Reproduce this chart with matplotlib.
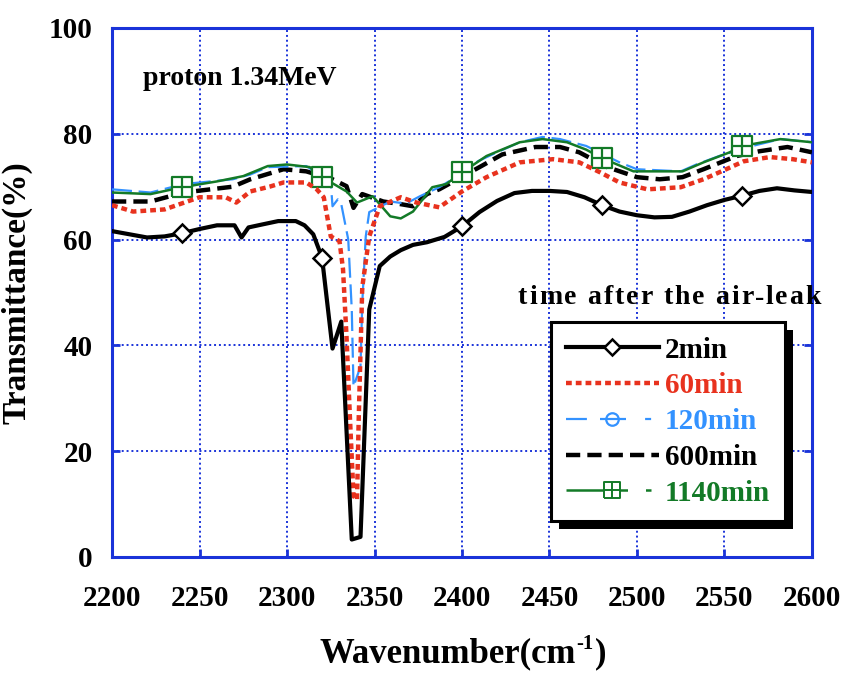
import matplotlib
matplotlib.use("Agg")
import matplotlib.pyplot as plt
from matplotlib.lines import Line2D
from matplotlib.patches import Rectangle
from matplotlib.path import Path

plt.rcParams["font.family"] = ["Liberation Serif", "DejaVu Serif"]
plt.rcParams["font.weight"] = "bold"

# Transmittance spectra
x_2 = [2200, 2210, 2220, 2230, 2240, 2250, 2260, 2270, 2274, 2278, 2285, 2295, 2305, 2310,
       2315, 2320, 2326, 2331, 2337, 2342, 2347, 2353, 2359, 2365, 2372, 2380, 2390, 2400,
       2410, 2420, 2430, 2440, 2450, 2460, 2470, 2480, 2490, 2500, 2510, 2520, 2530, 2540,
       2550, 2560, 2570, 2580, 2590, 2600]
y_2 = [61.6, 61.0, 60.4, 60.6, 61.2, 62.0, 62.7, 62.7, 60.4, 62.3, 62.8, 63.5, 63.5, 62.7,
       61.0, 56.6, 39.4, 44.5, 3.3, 3.8, 46.8, 55.0, 56.8, 58.0, 59.0, 59.5, 60.5, 62.5,
       65.2, 67.3, 68.8, 69.2, 69.2, 69.0, 68.0, 66.5, 65.3, 64.6, 64.2, 64.3, 65.3, 66.5,
       67.5, 68.3, 69.2, 69.7, 69.3, 69.0]

x_60 = [2200, 2212, 2230, 2250, 2265, 2271, 2279, 2290, 2298, 2311, 2317, 2321, 2325, 2330,
        2332, 2334, 2336, 2338, 2340, 2341, 2343, 2347, 2353, 2365, 2374, 2387, 2400, 2414,
        2433, 2452, 2467, 2479, 2490, 2506, 2525, 2538, 2551, 2561, 2576, 2589, 2600]
y_60 = [66.5, 65.3, 65.7, 68.0, 68.0, 67.0, 69.1, 70.0, 70.8, 70.8, 69.5, 68.0, 60.6, 59.7,
        54.4, 41.7, 26.0, 11.5, 10.8, 26.5, 51.0, 60.6, 66.3, 68.0, 67.0, 66.1, 69.1, 71.8,
        74.6, 75.2, 74.6, 72.7, 70.8, 69.5, 69.9, 71.4, 73.3, 74.8, 75.6, 75.2, 74.6]

x_120 = [2200, 2222, 2241, 2269, 2279, 2289, 2311, 2325, 2326, 2329, 2331, 2335, 2337, 2338,
         2342, 2343, 2345, 2347, 2359, 2368, 2376, 2387, 2400, 2409, 2420, 2433, 2446, 2456,
         2471, 2490, 2500, 2525, 2534, 2547, 2566, 2582, 2600]
y_120 = [69.5, 68.9, 70.5, 71.4, 72.3, 73.7, 73.9, 70.8, 66.3, 67.6, 66.7, 60.0, 46.8, 32.2,
         36.0, 48.0, 60.6, 65.2, 67.2, 66.8, 68.2, 69.9, 72.5, 74.8, 76.5, 78.4, 79.4, 79.0,
         77.7, 74.6, 73.3, 72.9, 74.2, 75.8, 77.7, 79.0, 78.4]

x_600 = [2200, 2222, 2241, 2269, 2279, 2298, 2311, 2326, 2334, 2338, 2343, 2355, 2365, 2372,
         2380, 2387, 2410, 2423, 2442, 2456, 2467, 2483, 2500, 2513, 2526, 2538, 2557, 2570,
         2586, 2600]
y_600 = [67.2, 67.2, 68.9, 70.0, 71.4, 73.3, 72.9, 71.4, 70.1, 66.0, 68.6, 67.2, 66.7, 66.3,
         68.6, 69.5, 73.7, 76.1, 77.5, 77.5, 76.5, 73.7, 71.8, 71.4, 71.8, 73.3, 75.8, 76.7,
         77.5, 76.5]

x_1140 = [2200, 2222, 2240, 2260, 2275, 2289, 2300, 2313, 2320, 2334, 2340, 2349, 2359, 2365,
          2372, 2383, 2391, 2400, 2414, 2433, 2446, 2460, 2471, 2480, 2498, 2526, 2538, 2553,
          2560, 2582, 2600]
y_1140 = [68.9, 68.6, 69.9, 71.0, 72.0, 73.9, 74.2, 73.7, 71.8, 69.1, 67.0, 68.2, 64.4, 64.0,
          65.3, 69.9, 70.5, 72.7, 75.8, 78.4, 79.0, 78.4, 77.0, 75.4, 72.9, 72.9, 74.6, 76.5,
          77.7, 79.0, 78.4]

labels = ["2min", "60min", "120min", "600min", "1140min"]

# marker positions (every 80 cm-1)
mark_x = [2240, 2320, 2400, 2480, 2560]

red = "#e8321e"
blue = "#3392ff"
green = "#137a27"
axblue = "#1a33d9"

# square with a cross inside
box_cross = Path([(-1, -1), (1, -1), (1, 1), (-1, 1), (-1, -1), (0, -1), (0, 1), (-1, 0), (1, 0)],
                 [Path.MOVETO, Path.LINETO, Path.LINETO, Path.LINETO, Path.LINETO,
                  Path.MOVETO, Path.LINETO, Path.MOVETO, Path.LINETO])

fig = plt.figure(figsize=(8.52, 6.73), dpi=100)
ax = fig.add_axes([0.1315, 0.1724, 0.8215, 0.786])

ax.plot(x_600, y_600, color="black", lw=3.2, dashes=(3.2, 1.6), zorder=3)
ax.plot(x_120, y_120, color=blue, lw=1.6, dashes=(9, 3), zorder=3)
ax.plot(x_1140, y_1140, color=green, lw=1.8, zorder=3,
        marker=box_cross, markersize=15, markerfacecolor="white", markeredgewidth=1.6,
        markevery=[x_1140.index(v) for v in mark_x])
ax.plot(x_60, y_60, color=red, lw=3.2, dashes=(1.3, 0.9), zorder=4)
ax.plot(x_2, y_2, color="black", lw=3.0, zorder=5,
        marker="D", markersize=9, markerfacecolor="white", markeredgewidth=1.8,
        markevery=[x_2.index(v) for v in mark_x])

ax.set_xlim(2200, 2600)
ax.set_ylim(0, 100)
ax.set_xticks(range(2200, 2601, 50))
ax.set_yticks(range(0, 101, 20))
ax.grid(True, color=axblue, linestyle=(0, (1, 1.5)), linewidth=1.4)
for s in ax.spines.values():
    s.set_color(axblue)
    s.set_linewidth(2.2)
ax.tick_params(axis="both", direction="in", length=6, width=2, color=axblue,
               labelsize=21, right=True, top=False)
ax.tick_params(axis="x", pad=20)
ax.tick_params(axis="y", pad=14)

ax.set_ylabel("Transmittance(%)", fontsize=24, fontweight="bold", labelpad=12)

ax.text(0.044, 0.905, "proton 1.34MeV", transform=ax.transAxes, fontsize=20,
        fontweight="bold", va="center", ha="left")

handles = [
    Line2D([], [], color="black", lw=3.0, marker="D", markersize=8,
           markerfacecolor="white", markeredgewidth=1.8),
    Line2D([], [], color=red, lw=3.2, dashes=(1.3, 0.9)),
    Line2D([], [], color=blue, lw=1.6, dashes=(9.4, 5.9, 11.7, 8.6, 2.7, 5), marker="o",
           markersize=9, markerfacecolor="none", markeredgewidth=1.6),
    Line2D([], [], color="black", lw=3.2, dashes=(3.2, 1.6)),
    Line2D([], [], color=green, lw=1.8, dashes=(20.5, 0.8, 3.3, 7.2, 2.2, 5), marker=box_cross,
           markersize=12, markerfacecolor="white", markeredgewidth=1.4),
]
leg = ax.legend(handles, labels, loc="upper right", bbox_to_anchor=(0.961, 0.444),
                borderaxespad=0, fancybox=False, framealpha=1, edgecolor="black",
                fontsize=21, handlelength=3.2, labelspacing=0.3, handletextpad=0.2,
                borderpad=0.5, numpoints=1,
                labelcolor=["black", red, blue, "black", green])
leg.get_frame().set_linewidth(2.2)
leg.set_zorder(10)

fig.canvas.draw()
renderer = fig.canvas.get_renderer()


def text_width(s, size):
    t = fig.text(0, 0, s, fontsize=size, fontweight="bold")
    w = t.get_window_extent(renderer).width
    t.remove()
    return w


# caption with slightly widened letter spacing, as in the original
caption = "time after the air-leak"
cx, cy = 518, 673 - 298
for i, ch in enumerate(caption):
    px = cx + text_width(caption[:i], 20) + i * 2.0 if i else cx
    fig.text(px / 852, cy / 673, ch, fontsize=20, fontweight="bold", va="center", ha="left")

# x label: Wavenumber(cm^-1)
lx, ly = 319, 673 - 662
part1 = "Wavenumber(cm"
fig.text(lx / 852, ly / 673, part1, fontsize=25, fontweight="bold", va="baseline")
w1 = text_width(part1, 25)
fig.text((lx + w1 + 1) / 852, (ly + 13) / 673, "-1", fontsize=15, fontweight="bold",
         va="baseline")
w2 = text_width("-1", 15)
fig.text((lx + w1 + w2 + 2) / 852, ly / 673, ")", fontsize=25, fontweight="bold",
         va="baseline")

# black drop shadow behind legend box
bb = leg.get_window_extent().transformed(ax.transAxes.inverted())
off_x = 8 / ax.bbox.width
off_y = 8 / ax.bbox.height
shadow = Rectangle((bb.x0 + off_x, bb.y0 - off_y), bb.width, bb.height,
                   transform=ax.transAxes, facecolor="black", edgecolor="none",
                   zorder=9, clip_on=False)
ax.add_patch(shadow)

fig.savefig("out.png", dpi=100)
